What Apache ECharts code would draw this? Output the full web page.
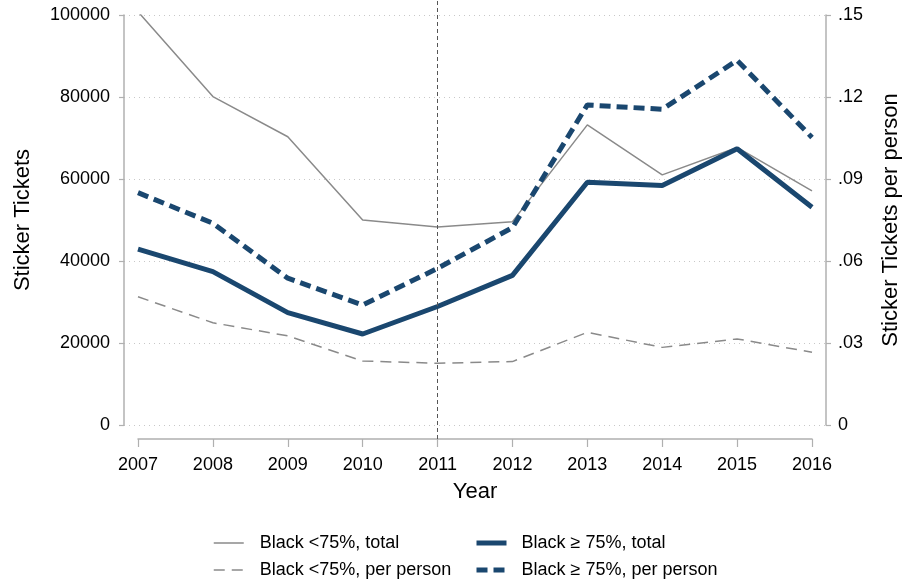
<!DOCTYPE html>
<html><head><meta charset="utf-8">
<script src="https://cdn.jsdelivr.net/npm/echarts@6/dist/echarts.min.js"></script>
<style>html,body{margin:0;padding:0;background:#fff}#c{width:903px;height:584px}</style>
</head><body><div id="c"></div>
<script>
const years = [2007, 2008, 2009, 2010, 2011, 2012, 2013, 2014, 2015, 2016];
const lowTotal = [100800, 80100, 70300, 50000, 48300, 49600, 73200, 61000, 67700, 57100];
const lowPerPerson = [0.0469, 0.0374, 0.0326, 0.0234, 0.0226, 0.0232, 0.0339, 0.0284, 0.0315, 0.0266];
const highTotal = [42900, 37400, 27400, 22200, 28900, 36500, 59200, 58400, 67400, 53100];
const highPerPerson = [0.0850, 0.0738, 0.0537, 0.0439, 0.0573, 0.0722, 0.1171, 0.1155, 0.1334, 0.1052];
const leftTicks = [0, 20000, 40000, 60000, 80000, 100000];
const rightTicks = [0, 0.03, 0.06, 0.09, 0.12, 0.15];
const policyYear = 2011;

const pair = (arr) => years.map((y, i) => [y, arr[i]]);
const FONT = '"Liberation Sans", Arial, Helvetica, sans-serif';
const NAVY = '#1a476f';
const GRAY = '#8a8a8a';
const AXIS = '#b0b0b0';
const pad = 14 / ((812 - 138) / 9);

const chart = echarts.init(document.getElementById('c'), null, {renderer: 'canvas'});
chart.setOption({
  animation: false,
  backgroundColor: '#fff',
  textStyle: {fontFamily: FONT},
  grid: [
    {left: 124, right: 77, top: 15, bottom: 159, containLabel: false, outerBoundsMode: 'none'},
    {left: 138, right: 91, top: 0, bottom: 145, containLabel: false, outerBoundsMode: 'none'}
  ],
  xAxis: [
    {gridIndex: 0, type: 'value', min: years[0] - pad, max: years[years.length - 1] + pad, show: false},
    {gridIndex: 1, type: 'value', min: years[0], max: years[years.length - 1], interval: 1,
     name: 'Year', nameLocation: 'middle', nameGap: 42,
     nameTextStyle: {fontSize: 22, color: '#000', fontFamily: FONT},
     axisLine: {lineStyle: {color: AXIS, width: 1.5}},
     axisTick: {length: 8, lineStyle: {color: AXIS, width: 1.2}},
     axisLabel: {fontSize: 18, color: '#000', margin: 17, formatter: v => String(v), fontFamily: FONT},
     splitLine: {show: false}}
  ],
  yAxis: [
    {gridIndex: 0, type: 'value', position: 'left', min: 0, max: 100000, interval: 20000,
     name: 'Sticker Tickets', nameLocation: 'middle', nameGap: 90, nameRotate: 90,
     nameTextStyle: {fontSize: 22, color: '#000', fontFamily: FONT},
     axisLine: {show: true, lineStyle: {color: AXIS, width: 1.5}},
     axisTick: {show: true, length: 5, lineStyle: {color: AXIS, width: 1.2}},
     axisLabel: {fontSize: 18, color: '#000', margin: 14, formatter: v => String(v), fontFamily: FONT},
     splitLine: {show: true, lineStyle: {color: '#c8c8c8', type: [1, 4], width: 1}}},
    {gridIndex: 0, type: 'value', position: 'right', min: 0, max: 0.15, interval: 0.03,
     name: 'Sticker Tickets per person', nameLocation: 'middle', nameGap: 54, nameRotate: 90,
     nameTextStyle: {fontSize: 22, color: '#000', fontFamily: FONT},
     axisLine: {show: true, lineStyle: {color: AXIS, width: 1.5}},
     axisTick: {show: true, length: 5, lineStyle: {color: AXIS, width: 1.2}},
     axisLabel: {fontSize: 18, color: '#000', margin: 12, fontFamily: FONT,
       formatter: v => v === 0 ? '0' : v.toFixed(2).replace(/^0/, '')},
     splitLine: {show: false}},
    {gridIndex: 1, type: 'value', min: 0, max: 1, show: false}
  ],
  legend: [
    {orient: 'vertical', left: 213, top: 534, padding: 0, itemWidth: 30, itemHeight: 14, itemGap: 9,
     itemStyle: {opacity: 0},
     textStyle: {fontSize: 18, color: '#000', fontFamily: FONT, padding: [0, 0, 0, 11]},
     data: [{name: 'Black <75%, total', lineStyle: {width: 1.5}},
            {name: 'Black <75%, per person', lineStyle: {width: 1.5}}]},
    {orient: 'vertical', left: 474, top: 534, padding: 0, itemWidth: 30, itemHeight: 14, itemGap: 9,
     itemStyle: {opacity: 0},
     textStyle: {fontSize: 18, color: '#000', fontFamily: FONT, padding: [0, 0, 0, 10]},
     data: [{name: 'Black \u2265 75%, total', lineStyle: {width: 5}},
            {name: 'Black \u2265 75%, per person', lineStyle: {width: 5}}]}
  ],
  series: [
    {name: 'Black <75%, total', type: 'line', xAxisIndex: 0, yAxisIndex: 0, data: pair(lowTotal),
     symbol: 'none', lineStyle: {color: GRAY, width: 1.5}, itemStyle: {color: GRAY}},
    {name: 'Black <75%, per person', type: 'line', xAxisIndex: 0, yAxisIndex: 1, data: pair(lowPerPerson),
     symbol: 'none', lineStyle: {color: GRAY, width: 1.5, type: [11, 7]}, itemStyle: {color: GRAY}},
    {name: 'Black \u2265 75%, total', type: 'line', xAxisIndex: 0, yAxisIndex: 0, data: pair(highTotal),
     symbol: 'none', lineStyle: {color: NAVY, width: 5}, itemStyle: {color: NAVY}},
    {name: 'Black \u2265 75%, per person', type: 'line', xAxisIndex: 0, yAxisIndex: 1, data: pair(highPerPerson),
     symbol: 'none', lineStyle: {color: NAVY, width: 5, type: [11, 6]}, itemStyle: {color: NAVY}},
    {name: 'policy', type: 'line', xAxisIndex: 1, yAxisIndex: 2, data: [], silent: true,
     markLine: {silent: true, symbol: 'none', label: {show: false},
       lineStyle: {color: '#555', type: [4, 3], width: 1},
       data: [{xAxis: policyYear}]}}
  ]
});
</script></body></html>
